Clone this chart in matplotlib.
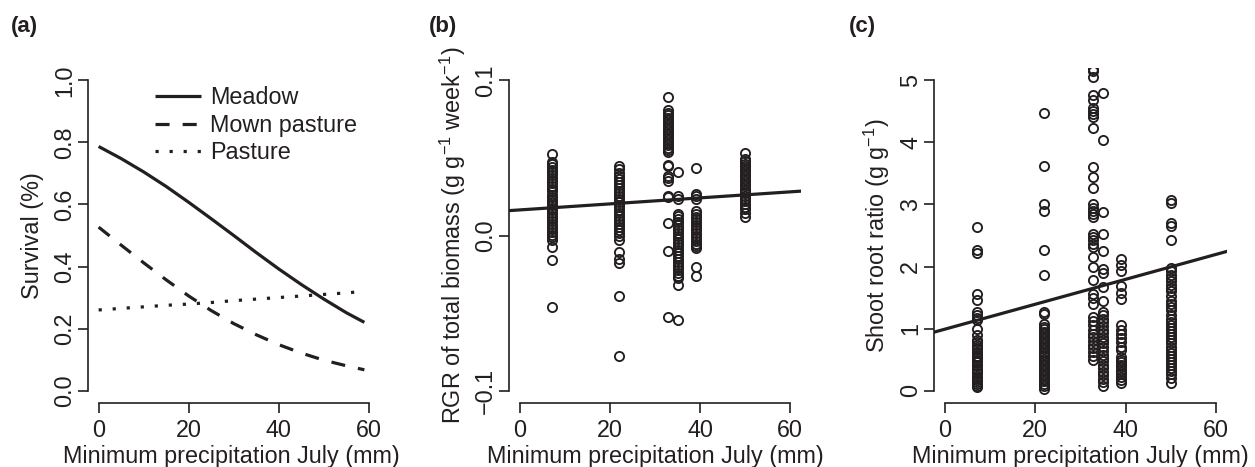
import matplotlib
matplotlib.use("Agg")
import matplotlib.pyplot as plt
import numpy as np

plt.rcParams["font.family"] = ["Liberation Sans", "DejaVu Sans"]
plt.rcParams["mathtext.fontset"] = "custom"
plt.rcParams["mathtext.rm"] = "Liberation Sans"
plt.rcParams["mathtext.it"] = "Liberation Sans:italic"
plt.rcParams["mathtext.bf"] = "Liberation Sans:bold"
plt.rcParams["axes.unicode_minus"] = True

# ---------------- data ----------------
# (a) fitted survival curves against minimum July precipitation
precip_grid = [0, 5, 10, 15, 20, 25, 30, 35, 40, 45, 50, 55, 59]
survival_meadow = [0.787, 0.748, 0.705, 0.658, 0.607, 0.554, 0.500,
                   0.445, 0.392, 0.342, 0.295, 0.251, 0.220]
survival_mown = [0.527, 0.469, 0.412, 0.357, 0.305, 0.258, 0.216,
                 0.180, 0.148, 0.121, 0.098, 0.080, 0.067]
survival_pasture = [0.260, 0.265, 0.270, 0.275, 0.279, 0.284, 0.290,
                    0.295, 0.300, 0.305, 0.310, 0.315, 0.320]
series_names = ["Meadow", "Mown pasture", "Pasture"]

# sites (minimum precipitation in July, mm)
site_precip = [7.2, 22.0, 32.8, 35.0, 39.0, 50.0]

# (b) relative growth rate of total biomass per site
rgr_site1 = [0.0523, 0.0474, 0.0458, 0.0441, 0.0423, 0.0409, 0.0388, 0.0371,
             0.0352, 0.0336, 0.0317, 0.0301, 0.0284, 0.0262, 0.0249, 0.0231,
             0.0213, 0.0198, 0.0179, 0.0162, 0.0146, 0.0127, 0.0111, 0.0093,
             0.0074, 0.0058, 0.0041, 0.0022, 0.0006, -0.0011, -0.0032,
             -0.0075, -0.0156, -0.0462]
rgr_site2 = [0.0445, 0.0431, 0.0402, 0.0384, 0.0363, 0.0347, 0.0325, 0.0308,
             0.0289, 0.0271, 0.0253, 0.0238, 0.0216, 0.0199, 0.0181, 0.0164,
             0.0143, 0.0128, 0.0109, 0.0091, 0.0073, 0.0052, 0.0036, 0.0017,
             -0.0002, -0.0031, -0.0104, -0.0153, -0.0178, -0.0388, -0.0779]
rgr_site3 = [0.0895, 0.0806, 0.0791, 0.0775, 0.0758, 0.0744, 0.0727, 0.0712,
             0.0694, 0.0679, 0.0663, 0.0647, 0.0631, 0.0614, 0.0598, 0.0583,
             0.0566, 0.0551, 0.0538, 0.0455, 0.0449, 0.0381, 0.0368, 0.0352,
             0.0257, 0.0246, 0.0083, -0.0099, -0.0525]
rgr_site4 = [0.0410, 0.0252, 0.0238, 0.0141, 0.0124, 0.0106, 0.0087, 0.0069,
             0.0051, 0.0033, 0.0014, -0.0003, -0.0022, -0.0041, -0.0058,
             -0.0077, -0.0095, -0.0113, -0.0131, -0.0152, -0.0168, -0.0187,
             -0.0205, -0.0223, -0.0241, -0.0258, -0.0271, -0.0316, -0.0546]
rgr_site5 = [0.0433, 0.0268, 0.0252, 0.0237, 0.0158, 0.0141, 0.0122, 0.0104,
             0.0087, 0.0069, 0.0051, 0.0033, 0.0016, -0.0002, -0.0019,
             -0.0036, -0.0052, -0.0068, -0.0083, -0.0203, -0.0262]
rgr_site6 = [0.0529, 0.0494, 0.0478, 0.0461, 0.0447, 0.0431, 0.0414, 0.0398,
             0.0383, 0.0366, 0.0351, 0.0334, 0.0318, 0.0302, 0.0287, 0.0271,
             0.0255, 0.0238, 0.0221, 0.0204, 0.0186, 0.0172, 0.0148, 0.0117]
rgr_intercept = 0.0165
rgr_slope = 0.000194

# (c) shoot:root ratio per site
srr_site1 = [2.63, 2.27, 2.21, 1.55, 1.46, 1.26, 1.22, 1.17, 1.13, 0.99, 0.90,
             0.82, 0.78, 0.74, 0.71, 0.67, 0.63, 0.60, 0.56, 0.53, 0.49, 0.46,
             0.42, 0.39, 0.35, 0.31, 0.28, 0.24, 0.21, 0.17, 0.14, 0.10, 0.07,
             0.05]
srr_site2 = [4.48, 3.62, 3.01, 2.89, 2.27, 1.87, 1.27, 1.23, 1.07, 1.03, 0.99,
             0.95, 0.91, 0.87, 0.83, 0.79, 0.75, 0.71, 0.67, 0.63, 0.59, 0.55,
             0.51, 0.47, 0.43, 0.39, 0.35, 0.31, 0.27, 0.23, 0.19, 0.15, 0.11,
             0.07, 0.03]
srr_site3 = [5.19, 5.15, 5.06, 4.77, 4.68, 4.55, 4.50, 4.46, 4.41, 4.23, 3.61,
             3.44, 3.26, 3.00, 2.95, 2.90, 2.84, 2.80, 2.52, 2.47, 2.42, 2.36,
             2.31, 2.15, 1.99, 1.79, 1.56, 1.50, 1.40, 1.18, 1.12, 1.05, 0.98,
             0.91, 0.86, 0.80, 0.74, 0.68, 0.62, 0.56, 0.50]
srr_site4 = [4.79, 4.04, 2.88, 2.52, 2.25, 1.96, 1.90, 1.67, 1.45, 1.27, 1.22,
             1.16, 1.10, 1.04, 0.98, 0.93, 0.87, 0.81, 0.76, 0.70, 0.64, 0.58,
             0.53, 0.47, 0.42, 0.36, 0.30, 0.25, 0.19, 0.14, 0.08]
srr_site5 = [2.12, 2.02, 1.92, 1.68, 1.58, 1.47, 1.06, 0.98, 0.91, 0.84, 0.78,
             0.70, 0.66, 0.54, 0.50, 0.46, 0.42, 0.38, 0.34, 0.30, 0.26, 0.22,
             0.17, 0.12]
srr_site6 = [3.07, 3.03, 2.70, 2.66, 2.42, 1.97, 1.92, 1.87, 1.82, 1.76, 1.71,
             1.66, 1.61, 1.52, 1.45, 1.40, 1.35, 1.30, 1.22, 1.16, 1.11, 1.06,
             1.01, 0.96, 0.91, 0.86, 0.81, 0.76, 0.71, 0.66, 0.61, 0.56, 0.51,
             0.46, 0.41, 0.36, 0.31, 0.26, 0.21, 0.13]
srr_intercept = 0.99
srr_slope = 0.0201

x_ticks = [0, 20, 40, 60]
x_label = "Minimum precipitation July (mm)"

# ---------------- layout ----------------
W, H = 1255, 467
fig = plt.figure(figsize=(W / 100, H / 100), dpi=100)

FS = 16.8
LW = 2.3
MS = 6.6
MEW = 1.35
ink = "#231f20"


def px_axes(left, right, top, bottom):
    return fig.add_axes([left / W, 1 - bottom / H, (right - left) / W, (bottom - top) / H])


def style_axes(ax, xlim, ylim, yticks, ylabels, ybounds):
    ax.set_xlim(*xlim)
    ax.set_ylim(*ylim)
    for s in ("top", "right"):
        ax.spines[s].set_visible(False)
    for s in ("left", "bottom"):
        ax.spines[s].set_linewidth(1.2)
        ax.spines[s].set_color(ink)
    ax.spines["bottom"].set_bounds(x_ticks[0], x_ticks[-1])
    ax.spines["left"].set_bounds(*ybounds)
    ax.set_xticks(x_ticks)
    ax.set_xticklabels([str(t) for t in x_ticks])
    ax.set_yticks(yticks)
    ax.set_yticklabels(ylabels, rotation=90, va="center")
    ax.tick_params(axis="both", direction="out", length=7.2, width=1.2,
                   color=ink, labelsize=FS, labelcolor=ink)
    ax.tick_params(axis="x", pad=4.0)
    ax.tick_params(axis="y", pad=1.2)
    ax.text(0.5, -53 / 335, x_label, transform=ax.transAxes,
            ha="center", va="center", fontsize=FS, color=ink)


def ylab(ax, xfrac, text):
    ax.text(xfrac, 0.5, text, transform=ax.transAxes, rotation=90,
            ha="center", va="center", fontsize=FS, color=ink)


# ---- (a) survival ----
axa = px_axes(88, 375, 68, 403)
style_axes(axa, (-2.36, 61.36), (-0.04, 1.04),
           [0, 0.2, 0.4, 0.6, 0.8, 1.0],
           ["0.0", "0.2", "0.4", "0.6", "0.8", "1.0"], (0, 1))
axa.plot(precip_grid, survival_meadow, color=ink, lw=LW, ls="-",
         solid_capstyle="butt", label=series_names[0])
axa.plot(precip_grid, survival_mown, color=ink, lw=LW, ls=(0, (4.4, 4.1)),
         dash_capstyle="butt", label=series_names[1])
axa.plot(precip_grid, survival_pasture, color=ink, lw=LW, ls=(0, (1.0, 3.4)),
         dash_capstyle="butt", label=series_names[2])
leg = axa.legend(loc="upper left", bbox_to_anchor=((155 - 88) / 287, (403 - 86) / 335),
                 frameon=False, fontsize=FS, handlelength=1.95, handletextpad=0.4,
                 labelspacing=0.2, borderpad=0, borderaxespad=0)
for t in leg.get_texts():
    t.set_color(ink)
ylab(axa, -55 / 287, "Survival (%)")

# ---- (b) RGR ----
axb = px_axes(509, 801, 68, 403)
style_axes(axb, (-2.4, 62.4), (-0.108, 0.108), [-0.1, 0.0, 0.1],
           ["\u22120.1", "0.0", "0.1"], (-0.1, 0.1))
for xs, ys in zip(site_precip, [rgr_site1, rgr_site2, rgr_site3,
                                rgr_site4, rgr_site5, rgr_site6]):
    axb.plot(np.full(len(ys), xs), ys, ls="none", marker="o", ms=MS,
             mfc="none", mec=ink, mew=MEW, zorder=2)
axb.axline((0, rgr_intercept), slope=rgr_slope, color=ink, lw=LW, zorder=3)
ylab(axb, -56 / 292, r"RGR of total biomass (g g$^{-1}$ week$^{-1}$)")

# ---- (c) shoot:root ratio ----
axc = px_axes(934, 1227, 68, 403)
style_axes(axc, (-2.4, 62.4), (-0.2, 5.2), [0, 1, 2, 3, 4, 5],
           ["0", "1", "2", "3", "4", "5"], (0, 5))
for xs, ys in zip(site_precip, [srr_site1, srr_site2, srr_site3,
                                srr_site4, srr_site5, srr_site6]):
    axc.plot(np.full(len(ys), xs), ys, ls="none", marker="o", ms=MS,
             mfc="none", mec=ink, mew=MEW, zorder=2)
axc.axline((0, srr_intercept), slope=srr_slope, color=ink, lw=LW, zorder=3)
ylab(axc, -57 / 293, r"Shoot root ratio (g g$^{-1}$)")

# panel letters
for xpx, letter in [(11, "(a)"), (429, "(b)"), (849, "(c)")]:
    fig.text(xpx / W, 1 - 32 / H, letter, fontsize=16, fontweight="bold",
             ha="left", va="baseline", color=ink)

fig.savefig("out.png", dpi=100)
